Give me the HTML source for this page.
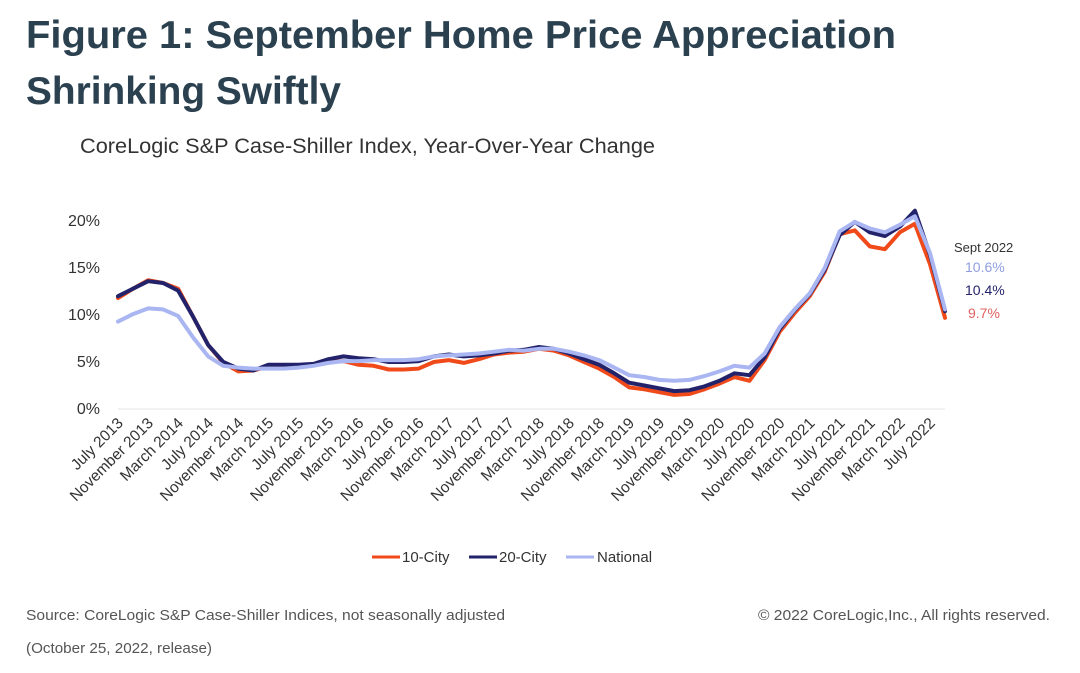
<!DOCTYPE html>
<html><head><meta charset="utf-8">
<style>
html,body{margin:0;padding:0;background:#fff;width:1080px;height:673px;overflow:hidden;font-family:"Liberation Sans",sans-serif}
svg{display:block}
</style></head>
<body>
<svg id="chart" width="1080" height="673" viewBox="0 0 1080 673">
<text x="26" y="48" font-size="39" font-weight="bold" fill="#2b4150" textLength="870" lengthAdjust="spacingAndGlyphs">Figure 1: September Home Price Appreciation</text>
<text x="26" y="104" font-size="39" font-weight="bold" fill="#2b4150" textLength="315" lengthAdjust="spacingAndGlyphs">Shrinking Swiftly</text>
<text x="80" y="153" font-size="21" fill="#333" textLength="575" lengthAdjust="spacingAndGlyphs">CoreLogic S&amp;P Case-Shiller Index, Year-Over-Year Change</text>
<g id="axes"></g>
<g id="series"></g>
<text x="954" y="252" font-size="13" fill="#333">Sept 2022</text>
<text x="965" y="272" font-size="14" fill="#8f9ee0">10.6%</text>
<text x="965" y="295" font-size="14" fill="#23236b">10.4%</text>
<text x="968" y="318" font-size="14" fill="#e06060">9.7%</text>
<g>
<line x1="372" y1="557" x2="400" y2="557" stroke="#f04a1a" stroke-width="3"/>
<text x="402" y="562" font-size="15" fill="#333">10-City</text>
<line x1="469" y1="557" x2="497" y2="557" stroke="#23236b" stroke-width="3"/>
<text x="499" y="562" font-size="15" fill="#333">20-City</text>
<line x1="566" y1="557" x2="594" y2="557" stroke="#a9b6f2" stroke-width="3"/>
<text x="597" y="562" font-size="15" fill="#333">National</text>
</g>
<text x="26" y="620" font-size="15" fill="#555" textLength="479" lengthAdjust="spacingAndGlyphs">Source: CoreLogic S&amp;P Case-Shiller Indices, not seasonally adjusted</text>
<text x="26" y="653" font-size="15" fill="#555" textLength="186" lengthAdjust="spacingAndGlyphs">(October 25, 2022, release)</text>
<text x="758" y="620" font-size="15" fill="#555" textLength="292" lengthAdjust="spacingAndGlyphs">© 2022 CoreLogic,Inc., All rights reserved.</text>
</svg>
<script>
// bimonthly points, Jul 2013 .. Sep 2022 (56 points)
const city20 = [12.0,12.8,13.6,13.4,12.6,9.8,6.8,5.0,4.3,4.1,4.7,4.7,4.7,4.8,5.3,5.6,5.4,5.3,5.0,5.0,5.1,5.6,5.8,5.6,5.7,5.9,6.2,6.3,6.6,6.4,5.9,5.3,4.7,3.8,2.8,2.5,2.2,1.9,2.0,2.4,3.0,3.8,3.6,5.5,8.5,10.5,12.2,14.8,18.5,19.9,18.8,18.4,19.4,21.1,16.4,10.4];
const city10 = [11.8,12.8,13.7,13.4,12.8,9.8,6.8,4.9,4.0,4.1,4.5,4.5,4.6,4.7,5.0,5.1,4.7,4.6,4.2,4.2,4.3,5.0,5.2,4.9,5.3,5.8,6.0,6.1,6.4,6.2,5.7,5.0,4.3,3.4,2.3,2.1,1.8,1.5,1.6,2.1,2.7,3.4,3.0,5.2,8.2,10.2,12.0,14.6,18.6,19.0,17.3,17.0,18.8,19.7,15.4,9.7];
const national = [9.3,10.1,10.7,10.6,9.9,7.6,5.6,4.6,4.4,4.3,4.3,4.3,4.4,4.6,4.9,5.1,5.1,5.2,5.2,5.2,5.3,5.6,5.7,5.8,5.9,6.1,6.3,6.2,6.4,6.4,6.1,5.7,5.2,4.4,3.6,3.4,3.1,3.0,3.1,3.5,4.0,4.6,4.4,5.9,8.7,10.6,12.3,15.0,18.9,19.9,19.2,18.8,19.6,20.5,16.6,10.6];
const yTicks = [0,5,10,15,20];
const xLabels = ["July 2013","November 2013","March 2014","July 2014","November 2014","March 2015","July 2015","November 2015","March 2016","July 2016","November 2016","March 2017","July 2017","November 2017","March 2018","July 2018","November 2018","March 2019","July 2019","November 2019","March 2020","July 2020","November 2020","March 2021","July 2021","November 2021","March 2022","July 2022"];

const NS="http://www.w3.org/2000/svg";
const x0=118, x1=945, yBase=409, pxPer=9.4;
const nPts = city20.length;
function xScale(i){return x0+(x1-x0)*i/(nPts-1);}
function yScale(v){return yBase-v*pxPer;}
const axes=document.getElementById('axes'), series=document.getElementById('series');

const base=document.createElementNS(NS,'line');
base.setAttribute('x1',x0);base.setAttribute('x2',x1);base.setAttribute('y1',yBase);base.setAttribute('y2',yBase);
base.setAttribute('stroke','#e6e6e6');base.setAttribute('stroke-width','1');


axes.appendChild(base);

yTicks.forEach(t=>{
  const tx=document.createElementNS(NS,'text');
  tx.setAttribute('x',100);tx.setAttribute('y',yScale(t)+5);
  tx.setAttribute('text-anchor','end');tx.setAttribute('font-size','16');tx.setAttribute('fill','#333');
  tx.textContent=t+'%';
  
  
  axes.appendChild(tx);
});

xLabels.forEach((l,k)=>{
  const x=xScale(k*2);
  const tx=document.createElementNS(NS,'text');
  tx.setAttribute('transform','translate('+(x+6)+',424) rotate(-45)');
  tx.setAttribute('text-anchor','end');tx.setAttribute('font-size','15.5');tx.setAttribute('fill','#333');
  tx.textContent=l;
  
  
  axes.appendChild(tx);
});

function drawLine(arr,color,name){
  const p=document.createElementNS(NS,'polyline');
  p.setAttribute('points',arr.map((v,i)=>xScale(i).toFixed(1)+','+yScale(v).toFixed(1)).join(' '));
  p.setAttribute('fill','none');p.setAttribute('stroke',color);p.setAttribute('stroke-width','4');
  p.setAttribute('stroke-linejoin','round');p.setAttribute('stroke-linecap','round');
  
  
  series.appendChild(p);
}
drawLine(city10,'#f04a1a','line-10-city');
drawLine(city20,'#23236b','line-20-city');
drawLine(national,'#a9b6f2','line-national');
</script>
</body></html>
